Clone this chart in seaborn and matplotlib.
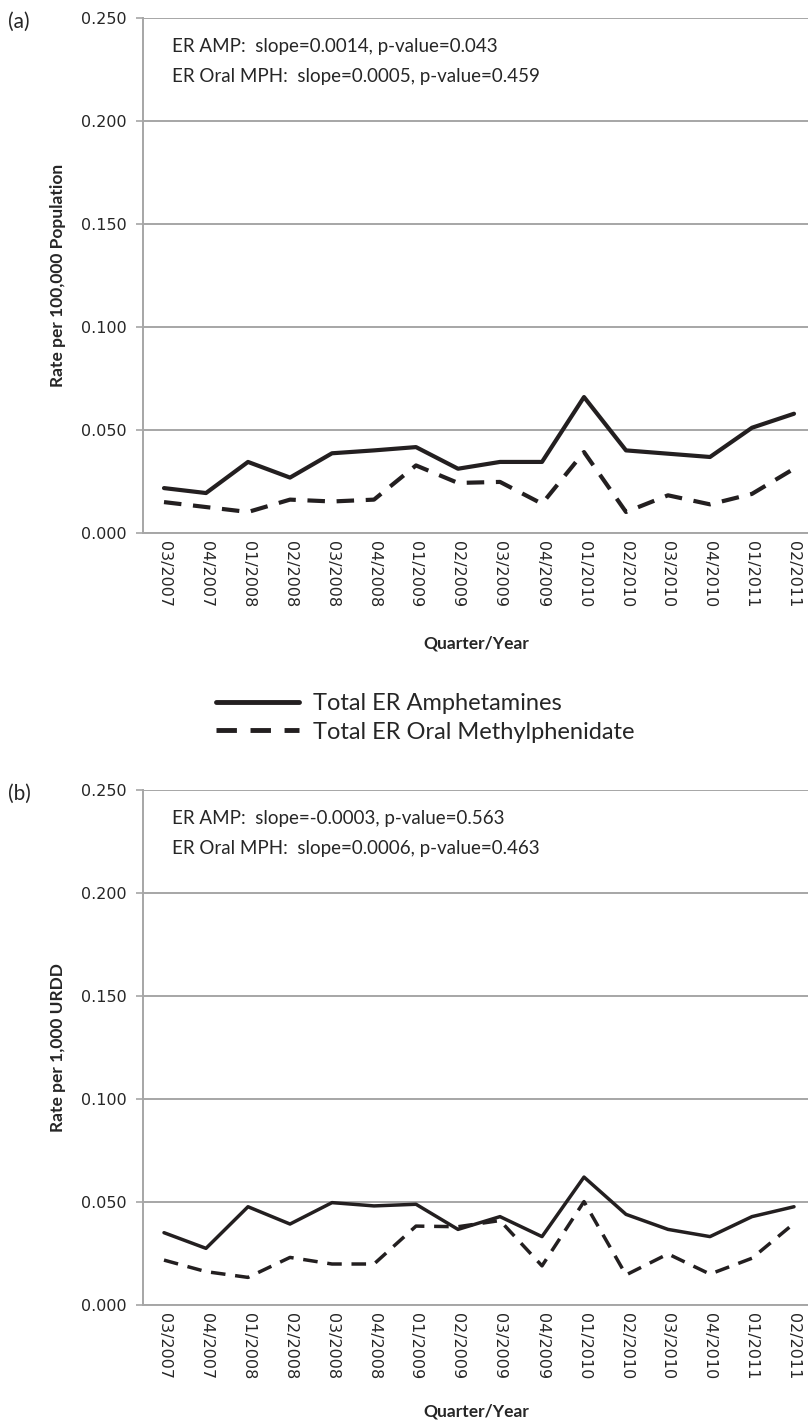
import seaborn as sns
import matplotlib.pyplot as plt
import pandas as pd
from matplotlib.lines import Line2D

# Quarter labels and rates
quarters = ['03/2007', '04/2007', '01/2008', '02/2008', '03/2008', '04/2008',
            '01/2009', '02/2009', '03/2009', '04/2009', '01/2010', '02/2010',
            '03/2010', '04/2010', '01/2011', '02/2011']

# (a) rate per 100,000 population
amp_pop = [0.0218, 0.0194, 0.0345, 0.0269, 0.0387, 0.0401, 0.0417, 0.0312,
           0.0345, 0.0345, 0.0660, 0.0401, 0.0385, 0.0369, 0.0511, 0.0579]
mph_pop = [0.0150, 0.0126, 0.0102, 0.0162, 0.0153, 0.0162, 0.0328, 0.0243,
           0.0248, 0.0142, 0.0393, 0.0102, 0.0183, 0.0139, 0.0190, 0.0312]

# (b) rate per 1,000 URDD
amp_urdd = [0.0351, 0.0275, 0.0477, 0.0393, 0.0497, 0.0481, 0.0489, 0.0367,
            0.0429, 0.0332, 0.0621, 0.0440, 0.0367, 0.0332, 0.0429, 0.0477]
mph_urdd = [0.0218, 0.0162, 0.0134, 0.0231, 0.0199, 0.0199, 0.0383, 0.0380,
            0.0410, 0.0190, 0.0502, 0.0146, 0.0248, 0.0150, 0.0227, 0.0396]

series_names = ['Total ER Amphetamines', 'Total ER Oral Methylphenidate']
yticks = [0.0, 0.05, 0.10, 0.15, 0.20, 0.25]

sns.set_style("white")
plt.rcParams['font.family'] = ['DejaVu Sans']

line_color = '#231F20'
grid_color = '#A6A6A6'
dash_style = (4.2, 2.8)
label_font = ['Lato', 'DejaVu Sans']

fig = plt.figure(figsize=(8.08, 14.24), dpi=100)
ax_a = fig.add_axes([143 / 808, 891 / 1424, 672 / 808, 515 / 1424])
ax_b = fig.add_axes([143 / 808, 119 / 1424, 672 / 808, 515 / 1424])


def draw_panel(ax, amp, mph, ylabel, stats, lw, xlabel_y):
    df = pd.DataFrame({
        'pos': list(range(len(quarters))) * 2,
        'rate': amp + mph,
        'series': [series_names[0]] * len(amp) + [series_names[1]] * len(mph),
    })
    sns.lineplot(data=df, x='pos', y='rate', hue='series', style='series',
                 palette=[line_color, line_color],
                 dashes={series_names[0]: '', series_names[1]: dash_style},
                 linewidth=lw, legend=False, ax=ax)

    ax.set_ylim(0, 0.25)
    ax.set_xlim(-0.5, len(quarters) - 0.5)
    ax.set_yticks(yticks)
    ax.set_yticklabels([f'{v:.3f}' for v in yticks])
    ax.yaxis.grid(True, color=grid_color, linewidth=1.4)
    ax.set_axisbelow(True)

    ax.set_xticks(range(len(quarters)))
    ax.set_xticklabels(quarters, rotation=-90, fontsize=11.5, color='#262626')
    ax.set_xticks([i - 0.5 for i in range(len(quarters) + 1)], minor=True)
    ax.tick_params(axis='x', which='major', length=0, pad=6)
    ax.tick_params(axis='x', which='minor', length=5, width=1.2, color=grid_color)
    ax.tick_params(axis='y', length=5, width=1.2, color=grid_color, pad=7,
                   labelsize=11.5, labelcolor='#262626', left=True)

    for side in ['top', 'right']:
        ax.spines[side].set_visible(False)
    for side in ['left', 'bottom']:
        ax.spines[side].set_color(grid_color)
        ax.spines[side].set_linewidth(1.4)

    ax.set_ylabel(ylabel, family=label_font, fontweight='bold', fontsize=12.5)
    ax.yaxis.set_label_coords(-0.115, 0.5)
    ax.set_xlabel('Quarter/Year', family=label_font, fontweight='bold',
                  fontsize=12.5, va='center')
    ax.xaxis.set_label_coords(0.496, xlabel_y)

    ax.text(0.043, 0.944, stats[0], transform=ax.transAxes, va='center',
            family=label_font, fontsize=13.5, color='#262626')
    ax.text(0.043, 0.887, stats[1], transform=ax.transAxes, va='center',
            family=label_font, fontsize=13.5, color='#262626')


draw_panel(ax_a, amp_pop, mph_pop, 'Rate per 100,000 Population',
           ['ER AMP:  slope=0.0014, p-value=0.043',
            'ER Oral MPH:  slope=0.0005, p-value=0.459'], 3.0, -0.214)
draw_panel(ax_b, amp_urdd, mph_urdd, 'Rate per 1,000 URDD',
           ['ER AMP:  slope=-0.0003, p-value=0.563',
            'ER Oral MPH:  slope=0.0006, p-value=0.463'], 2.5, -0.206)

fig.text(8 / 808, 1 - 22 / 1424, '(a)', va='center', fontsize=15,
         family=label_font, color='#262626')
fig.text(8 / 808, 1 - 794 / 1424, '(b)', va='center', fontsize=15,
         family=label_font, color='#262626')

handles = [Line2D([], [], color=line_color, linewidth=3.5),
           Line2D([], [], color=line_color, linewidth=3.5, dashes=dash_style)]
fig.legend(handles, series_names, loc='center left',
           bbox_to_anchor=(195 / 808, 1 - 718 / 1424), frameon=False,
           prop={'family': label_font, 'size': 17},
           handlelength=3.5, handletextpad=0.6, labelspacing=0.3,
           labelcolor='#262626')

fig.savefig('out.png', dpi=100)
